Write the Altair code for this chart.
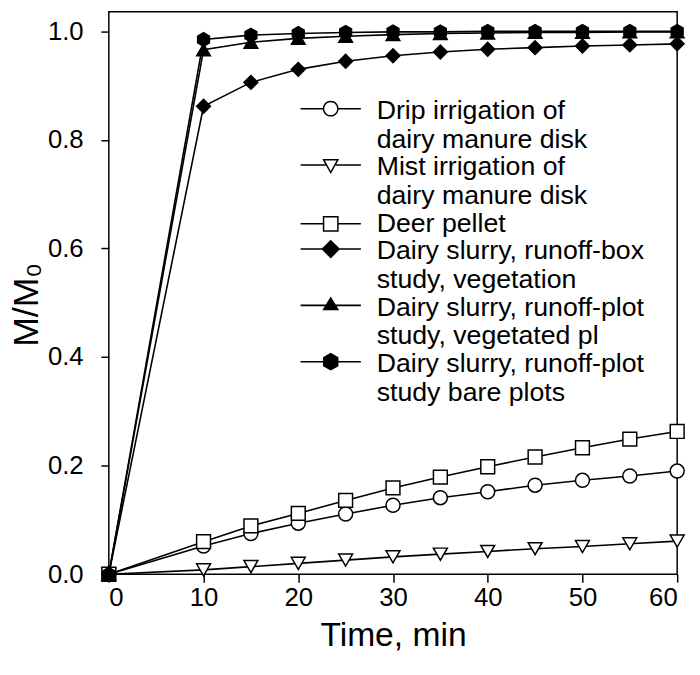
import altair as alt
import pandas as pd

times = [0, 10, 15, 20, 25, 30, 35, 40, 45, 50, 55, 60]

series_names = [
    "Drip irrigation of\ndairy manure disk",
    "Mist irrigation of\ndairy manure disk",
    "Deer pellet",
    "Dairy slurry, runoff-box\nstudy, vegetation",
    "Dairy slurry, runoff-plot\nstudy, vegetated pl",
    "Dairy slurry, runoff-plot\nstudy bare plots",
]

drip = [0, 0.052, 0.075, 0.094, 0.111, 0.127, 0.141, 0.152, 0.164, 0.173, 0.181, 0.190]
mist = [0, 0.008, 0.014, 0.020, 0.026, 0.032, 0.037, 0.042, 0.047, 0.051, 0.056, 0.061]
deer = [0, 0.060, 0.089, 0.112, 0.136, 0.159, 0.179, 0.198, 0.216, 0.233, 0.249, 0.263]
box_veg = [0, 0.862, 0.906, 0.930, 0.945, 0.955, 0.962, 0.967, 0.970, 0.973, 0.975, 0.977]
plot_veg = [0, 0.966, 0.980, 0.987, 0.991, 0.994, 0.996, 0.997, 0.998, 0.998, 0.999, 0.999]
plot_bare = [0, 0.985, 0.993, 0.996, 0.998, 0.999, 0.999, 1.0, 1.0, 1.0, 1.0, 1.0]

all_values = [drip, mist, deer, box_veg, plot_veg, plot_bare]

rows = []
for name, vals in zip(series_names, all_values):
    for t, v in zip(times, vals):
        rows.append({"time": t, "value": v, "series": name})
df = pd.DataFrame(rows)

hexagon = "M0,-1L0.866,-0.5L0.866,0.5L0,1L-0.866,0.5L-0.866,-0.5Z"
marker_shapes = ["circle", "triangle-down", "square", "diamond", "triangle-up", hexagon]
marker_fills = ["white", "white", "white", "black", "black", "black"]
marker_sizes = [200, 190, 230, 300, 220, 200]

# ---- legend glyphs: filled outlines only (line + marker), in pixel units (symbolSize=4 -> scale 1)
HALF = 30.5
LW = 0.8
LINE_H = 2.5  # lift of the glyph for two-line labels so it sits on the first line


def poly(pts, dy):
    return "M" + "L".join(f"{x:.2f},{y + dy:.2f}" for x, y in pts) + "Z"


def hbar(x0, x1, dy):
    return poly([(x0, -LW), (x1, -LW), (x1, LW), (x0, LW)], dy)


def ring_circle(r_out, r_in, dy):
    a = f"M{r_out},{dy}A{r_out},{r_out} 0 1,1 {-r_out},{dy}A{r_out},{r_out} 0 1,1 {r_out},{dy}Z"
    b = f"M{r_in},{dy}A{r_in},{r_in} 0 1,0 {-r_in},{dy}A{r_in},{r_in} 0 1,0 {r_in},{dy}Z"
    return a + b


def glyph(kind, dy):
    if kind == "circle":
        return hbar(-HALF, -8, dy) + hbar(8, HALF, dy) + ring_circle(8, 6.5, dy)
    if kind == "tdown":
        return (hbar(-HALF, -5.1, dy) + hbar(5.1, HALF, dy)
                + poly([(-8.5, -6), (8.5, -6), (0, 9)], dy)
                + poly([(-5.93, -4.5), (0, 5.95), (5.93, -4.5)], dy))
    if kind == "square":
        return (hbar(-HALF, -8, dy) + hbar(8, HALF, dy)
                + poly([(-8, -8), (8, -8), (8, 8), (-8, 8)], dy)
                + poly([(-6.5, -6.5), (-6.5, 6.5), (6.5, 6.5), (6.5, -6.5)], dy))
    if kind == "diamond":
        return hbar(-HALF, HALF, dy) + poly([(0, -9.5), (9.5, 0), (0, 9.5), (-9.5, 0)], dy)
    if kind == "tup":
        return hbar(-HALF, HALF, dy) + poly([(0, -9), (8.5, 5), (-8.5, 5)], dy)
    return hbar(-HALF, HALF, dy) + poly([(0, -9), (7.8, -4.5), (7.8, 4.5), (0, 9), (-7.8, 4.5), (-7.8, -4.5)], dy)


glyph_kinds = ["circle", "tdown", "square", "diamond", "tup", "hex"]
legend_paths = [
    glyph(k, -LINE_H if "\n" in name else 0.0) for k, name in zip(glyph_kinds, series_names)
]
legend_fills = ["black"] * 6

FONT = "Liberation Sans"

x_enc = alt.X(
    "time:Q",
    scale=alt.Scale(domain=[0, 60], nice=False),
    axis=alt.Axis(values=[0, 10, 20, 30, 40, 50, 60], title="Time, min"),
)
y_enc = alt.Y(
    "value:Q",
    scale=alt.Scale(domain=[0, 1.036], nice=False),
    axis=alt.Axis(values=[0, 0.2, 0.4, 0.6, 0.8, 1.0], format=".1f", title="M/M₀", titleY=296, titleFontSize=36),
)

base = alt.Chart(df)

lines = base.mark_line(color="black", strokeWidth=1.6, clip=False).encode(
    x=x_enc, y=y_enc, detail="series:N"
)

points = base.mark_point(filled=False, color="black", stroke="black", strokeWidth=1.5, opacity=1, clip=False).encode(
    x=x_enc,
    y=y_enc,
    shape=alt.Shape("series:N", scale=alt.Scale(domain=series_names, range=marker_shapes), legend=None),
    fill=alt.Fill("series:N", scale=alt.Scale(domain=series_names, range=marker_fills), legend=None),
    size=alt.Size("series:N", scale=alt.Scale(domain=series_names, range=marker_sizes), legend=None),
)

leg = alt.Legend(
    title=None,
    orient="none",
    legendX=211,
    legendY=87,
    direction="vertical",
    labelExpr="split(datum.label, '\\n')",
    labelFont=FONT,
    labelFontSize=27,
    labelColor="black",
    labelLimit=0,
    labelOffset=33,
    labelBaseline="middle",
    symbolSize=4,
    symbolStrokeWidth=0,
    symbolOpacity=1,
    rowPadding=0,
)

legend_layer = base.transform_filter("datum.time < 0").mark_point(filled=True, opacity=1).encode(
    x=x_enc,
    y=y_enc,
    shape=alt.Shape("series:N", scale=alt.Scale(domain=series_names, range=legend_paths), legend=leg),
    fill=alt.Fill("series:N", scale=alt.Scale(domain=series_names, range=legend_fills), legend=leg),
)

chart = (
    alt.layer(lines, points, legend_layer)
    .resolve_scale(shape="independent", fill="independent", size="independent")
    .properties(
        width=575,
        height=569,
        padding={"left": 102, "top": 0, "right": 15, "bottom": 90},
        autosize=alt.AutoSizeParams(type="none"),
    )
    .configure_view(stroke="black", strokeWidth=1.5)
    .configure_axis(
        grid=False,
        domain=False,
        ticks=True,
        tickColor="black",
        tickWidth=1.5,
        tickSize=8,
        labelFont=FONT,
        labelFontSize=26,
        labelColor="black",
        titleFont=FONT,
        titleFontSize=34,
        titleFontWeight="normal",
        titleColor="black",
    )
    .configure_axisX(labelPadding=3, titlePadding=8)
    .configure_axisY(labelPadding=18, titlePadding=2)
)

chart.save("out.html", embed_options={"renderer": "svg", "actions": False})
